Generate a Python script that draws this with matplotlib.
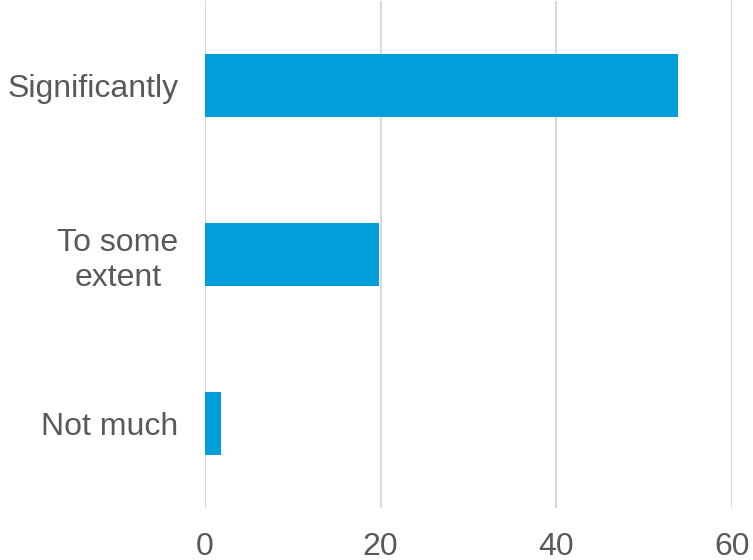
import matplotlib
matplotlib.use("Agg")
import matplotlib.pyplot as plt

categories = ["Significantly", "To some\nextent", "Not much"]
values = [53.8, 19.8, 1.8]
x_ticks = [0, 20, 40, 60]

plt.rcParams["font.family"] = ["Liberation Sans", "DejaVu Sans"]

fig = plt.figure(figsize=(7.53, 5.60), dpi=100)
ax = fig.add_axes([0.2719, 0.093, 0.7006, 0.905])

pos = list(range(len(categories)))
ax.barh(pos, values, height=0.37, color="#009fdb", zorder=3)

ax.set_xlim(0, 60)
ax.set_ylim(2.5, -0.5)
ax.set_xticks(x_ticks)
ax.set_yticks(pos)
ax.set_yticklabels(categories, multialignment="center", linespacing=1.2)

ax.grid(axis="x", color="#d9d9d9", linewidth=1.5, zorder=0)
for s in ax.spines.values():
    s.set_visible(False)

ax.tick_params(axis="both", length=0, labelsize=23, labelcolor="#595959")
ax.tick_params(axis="x", pad=17)
ax.tick_params(axis="y", pad=19)

fig.savefig("out.png", dpi=100)
